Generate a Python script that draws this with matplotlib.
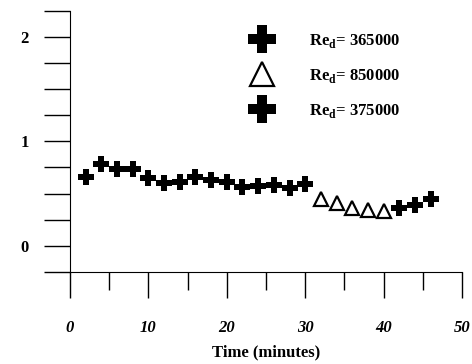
import matplotlib.pyplot as plt
from matplotlib.ticker import MultipleLocator

plt.rcParams['font.family'] = ['Liberation Serif', 'DejaVu Serif']

# data
t1 = [2, 4, 6, 8, 10, 12, 14, 16, 18, 20, 22, 24, 26, 28, 30]
y1 = [0.66, 0.78, 0.74, 0.74, 0.65, 0.60, 0.61, 0.66, 0.63, 0.61, 0.56, 0.57, 0.58, 0.55, 0.59]
t2 = [32, 34, 36, 38, 40]
y2 = [0.45, 0.41, 0.36, 0.34, 0.33]
t3 = [42, 44, 46]
y3 = [0.36, 0.39, 0.45]
labels = ['Re$_\\mathregular{d}$= 365000', 'Re$_\\mathregular{d}$= 850000', 'Re$_\\mathregular{d}$= 375000']

fig = plt.figure(figsize=(4.72, 3.64), dpi=100)
ax = fig.add_axes([0.1483, 0.2527, 0.8305, 0.7179])

h1, = ax.plot(t1, y1, 'P', color='black', markersize=12, markeredgewidth=0, label=labels[0])
h2, = ax.plot(t2, y2, '^', markerfacecolor='white', markeredgecolor='black',
              markersize=10, markeredgewidth=1.6, label=labels[1])
h3, = ax.plot(t3, y3, 'P', color='black', markersize=12, markeredgewidth=0, label=labels[2])

ax.set_xlim(0, 50)
ax.set_ylim(-0.25, 2.25)
ax.spines['top'].set_visible(False)
ax.spines['right'].set_visible(False)

ax.xaxis.set_major_locator(MultipleLocator(10))
ax.xaxis.set_minor_locator(MultipleLocator(5))
ax.set_yticks([0, 1, 2])
ax.yaxis.set_minor_locator(MultipleLocator(0.25))
# tick sizes in points (1 px = 0.72 pt at 100 dpi)
ax.tick_params(axis='x', which='major', direction='out', length=18.5, width=1, pad=16)
ax.tick_params(axis='x', which='minor', direction='out', length=13, width=1)
ax.tick_params(axis='y', which='both', direction='out', length=18.5, width=1, pad=11)

for lab in ax.get_xticklabels():
    lab.set_fontsize(12)
    lab.set_fontweight('bold')
    lab.set_fontstyle('italic')
for lab in ax.get_yticklabels():
    lab.set_fontsize(12)
    lab.set_fontweight('bold')

ax.set_xlabel('Time (minutes)', fontsize=12, fontweight='bold', labelpad=6)

leg = ax.legend(handles=[h1, h2, h3], loc='upper left', bbox_to_anchor=(0.41, 0.975),
                frameon=False, markerscale=1.7, handletextpad=1.8, labelspacing=1.0,
                prop={'weight': 'bold', 'size': 12})

fig.savefig('out.png', dpi=100)
